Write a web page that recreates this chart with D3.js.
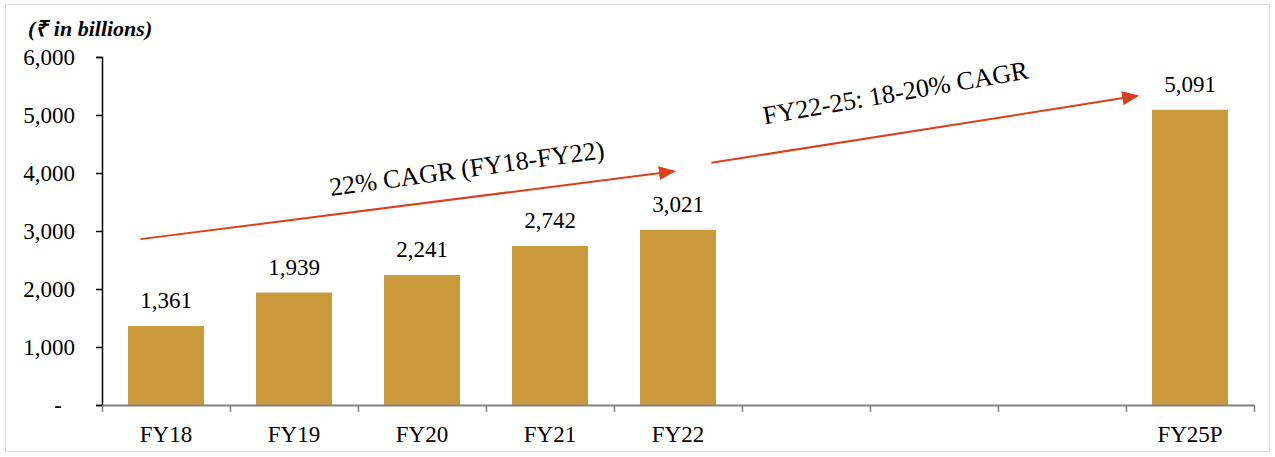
<!DOCTYPE html>
<html>
<head>
<meta charset="utf-8">
<script src="https://cdn.jsdelivr.net/npm/d3@7"></script>
<style>
  body { margin: 0; background: #fff; }
  text { font-family: "Liberation Serif", "Times New Roman", serif; fill: #000; }
</style>
</head>
<body>
<script>
// chart data
var categories = ["FY18", "FY19", "FY20", "FY21", "FY22", "FY23", "FY24", "FY24b", "FY25P"];
var shownLabels = ["FY18", "FY19", "FY20", "FY21", "FY22", "", "", "", "FY25P"];
var values = [1361, 1939, 2241, 2742, 3021, null, null, null, 5091];
var yTicks = [0, 1000, 2000, 3000, 4000, 5000, 6000];

// growth arrows: position in band units along x, value along y
var arrows = [
    { x1: 0.30, y1: 2860, x2: 4.47, y2: 4030, label: "22% CAGR (FY18-FY22)", lx: 2.86, ly: 3930, rot: -7.9 },
    { x1: 4.76, y1: 4175, x2: 8.09, y2: 5330, label: "FY22-25: 18-20% CAGR", lx: 6.21, ly: 5235, rot: -9.9 }
];

var width = 1275, height = 457;
var margin = { left: 102, right: 21, top: 57, bottom: 52 };

var svg = d3.select("body").append("svg")
    .attr("width", width)
    .attr("height", height);

// light frame
svg.append("rect")
    .attr("x", 5.5).attr("y", 4.5)
    .attr("width", 1264).attr("height", 447)
    .attr("fill", "none")
    .attr("stroke", "#d9d9d9");

var x = d3.scaleBand()
    .domain(categories)
    .range([margin.left, width - margin.right])
    .paddingInner(0.406)
    .paddingOuter(0.203);

// band units -> pixels (for tick marks and arrows)
var xu = d3.scaleLinear()
    .domain([0, categories.length])
    .range([margin.left, width - margin.right]);

var y = d3.scaleLinear()
    .domain([0, 6000])
    .range([height - margin.bottom, margin.top]);

var barData = values.map((v, i) => ({ cat: categories[i], v: v })).filter(d => d.v !== null);

// bars
svg.selectAll("rect.bar")
    .data(barData)
    .enter().append("rect")
    .attr("class", "bar")
    .attr("x", d => x(d.cat))
    .attr("width", x.bandwidth())
    .attr("y", d => y(d.v))
    .attr("height", d => y(0) - y(d.v))
    .attr("fill", "#c99b3c");

// value labels
svg.selectAll("text.val")
    .data(barData)
    .enter().append("text")
    .attr("class", "val")
    .attr("x", d => x(d.cat) + x.bandwidth() / 2)
    .attr("y", d => y(d.v) - 18)
    .attr("text-anchor", "middle")
    .style("font-size", "23px")
    .text(d => d3.format(",")(d.v));

// y axis
var yAxis = svg.append("g")
    .attr("transform", "translate(" + margin.left + ",0)")
    .call(d3.axisLeft(y)
        .tickValues(yTicks)
        .tickSize(6)
        .tickPadding(21)
        .tickFormat(d => d === 0 ? "-" : d3.format(",")(d)));
yAxis.selectAll("text").style("font-size", "23px").attr("fill", "#000")
    .style("font-family", "'Liberation Serif', serif");
yAxis.selectAll("text").filter(d => d === 0).attr("dx", -13);
yAxis.select(".domain").attr("stroke", "#000").attr("stroke-width", 1.5);
yAxis.selectAll(".tick line").attr("stroke", "#000").attr("stroke-width", 1.5);

// x axis: tick marks at band edges
var xTickAxis = svg.append("g")
    .attr("transform", "translate(0," + y(0) + ")")
    .call(d3.axisBottom(xu)
        .tickValues(d3.range(0, categories.length + 1))
        .tickSize(7)
        .tickSizeOuter(0)
        .tickFormat(""));
xTickAxis.select(".domain").attr("stroke", "#808080").attr("stroke-width", 2);
xTickAxis.selectAll(".tick line").attr("stroke", "#808080").attr("stroke-width", 1.5);

// x category labels
var xLab = svg.append("g")
    .attr("transform", "translate(0," + y(0) + ")")
    .call(d3.axisBottom(x)
        .tickSize(0)
        .tickPadding(21)
        .tickFormat((d, i) => shownLabels[i]));
xLab.select(".domain").remove();
xLab.selectAll("text").style("font-size", "23px").attr("fill", "#000")
    .style("font-family", "'Liberation Serif', serif");

// unit title
svg.append("text")
    .attr("x", 28)
    .attr("y", 36)
    .style("font-size", "22px")
    .style("font-weight", "bold")
    .style("font-style", "italic")
    .text("(₹ in billions)");

// arrows
svg.append("defs").append("marker")
    .attr("id", "head")
    .attr("viewBox", "0 0 10 10")
    .attr("refX", 9).attr("refY", 5)
    .attr("markerWidth", 17).attr("markerHeight", 14)
    .attr("markerUnits", "userSpaceOnUse")
    .attr("orient", "auto")
    .attr("preserveAspectRatio", "none")
    .append("path")
    .attr("d", "M0,0L10,5L0,10Z")
    .attr("fill", "#dc3f1c");

arrows.forEach(function(a) {
    svg.append("line")
        .attr("x1", xu(a.x1)).attr("y1", y(a.y1))
        .attr("x2", xu(a.x2)).attr("y2", y(a.y2))
        .attr("stroke", "#dc3f1c")
        .attr("stroke-width", 2)
        .attr("marker-end", "url(#head)");

    svg.append("text")
        .attr("transform", "translate(" + xu(a.lx) + "," + y(a.ly) + ") rotate(" + a.rot + ")")
        .attr("text-anchor", "middle")
        .style("font-size", "26px")
        .text(a.label);
});
</script>
</body>
</html>
